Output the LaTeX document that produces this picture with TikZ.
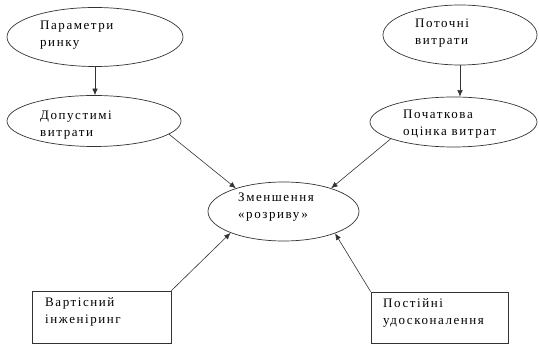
\documentclass[tikz,border=0pt]{standalone}
\usepackage{fontspec}
\setmainfont{Liberation Serif}[LetterSpace=12]
\usetikzlibrary{arrows.meta,shapes.geometric}
\tikzset{
  oval/.style={draw=black!80, line width=0.7pt, ellipse, inner sep=0pt},
  rbox/.style={draw=black!80, line width=0.7pt, rectangle, inner sep=0pt},
  lbl/.style={anchor=west, align=left, inner sep=0pt, font=\fontsize{13}{17.5}\selectfont},
  conn/.style={draw=black!80, line width=0.6pt},
  arr/.style={conn, -{Latex[length=6.5pt,width=5.5pt]}}
}
\begin{document}
\begin{tikzpicture}[x=1pt,y=-1pt]
\useasboundingbox (0,0) rectangle (539,344);
% ellipses
\node[oval, minimum width=176pt, minimum height=59pt] (e1) at (95,37) {};
\node[oval, minimum width=174pt, minimum height=51pt] (e2) at (94,121) {};
\node[oval, minimum width=154pt, minimum height=60pt] (e3) at (460,35) {};
\node[oval, minimum width=167pt, minimum height=50pt] (e4) at (453.5,122) {};
\node[oval, minimum width=151pt, minimum height=59pt] (c) at (283.5,211.5) {};
% boxes
\node[rbox, minimum width=139pt, minimum height=52pt] (b1) at (101.5,317) {};
\node[rbox, minimum width=137pt, minimum height=51pt] (b2) at (439.5,317.5) {};
% labels
\node[lbl] (t1) at (40,35) {Параметри\\ринку};
\node[lbl] (t2) at (40,125) {Допустимі\\витрати};
\node[lbl] (t3) at (415,33) {Поточні\\витрати};
\node[lbl] (t4) at (403,124) {Початкова\\оцінка витрат};
\node[lbl] (tc) at (238,207) {Зменшення\\«розриву»};
\node[lbl] (tb1) at (45,312) {Вартісний\\інженіринг};
\node[lbl] (tb2) at (383,313) {Постійні\\удосконалення};
% connectors
\draw[arr] (e1.south) -- (e1.south |- e2.north);
\draw[arr] (e3.south) -- (e3.south |- e4.north);
\draw[arr] (e2.-10) -- (c.154);
\draw[arr] (e4.-165) -- (c.26);
\draw[arr] (b1.north east) -- (c.-158);
\draw[arr] (b2.north west) -- (c.-23);
\end{tikzpicture}
\end{document}
